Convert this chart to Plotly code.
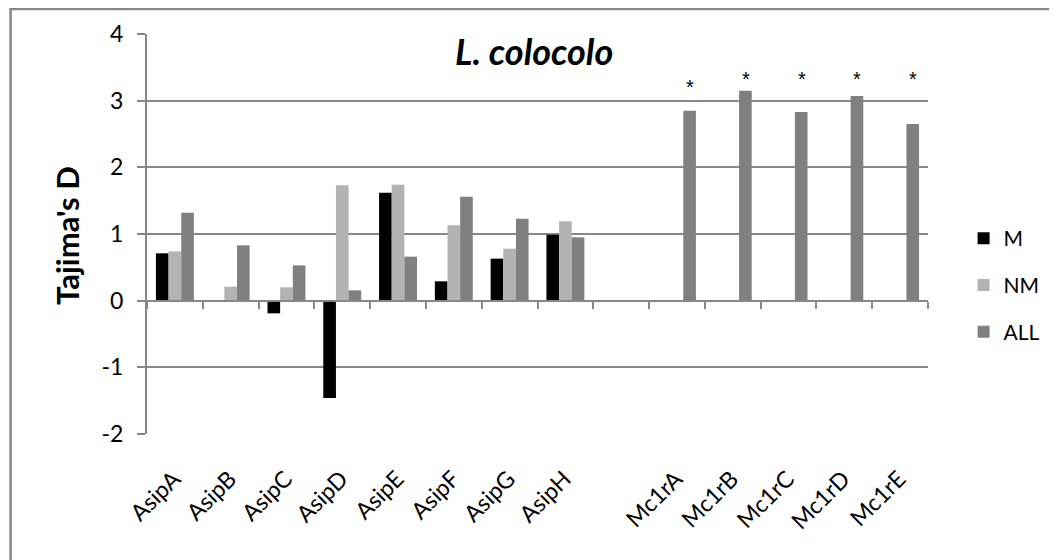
import plotly.graph_objects as go

categories = ["AsipA", "AsipB", "AsipC", "AsipD", "AsipE", "AsipF", "AsipG", "AsipH", " ",
              "Mc1rA", "Mc1rB", "Mc1rC", "Mc1rD", "Mc1rE"]
m_values = [0.71, None, -0.19, -1.46, 1.62, 0.29, 0.63, 0.99, None, None, None, None, None, None]
nm_values = [0.74, 0.21, 0.20, 1.73, 1.74, 1.13, 0.78, 1.19, None, None, None, None, None, None]
all_values = [1.32, 0.83, 0.53, 0.155, 0.66, 1.56, 1.23, 0.95, None, 2.85, 3.15, 2.83, 3.07, 2.65]
star_categories = ["Mc1rA", "Mc1rB", "Mc1rC", "Mc1rD", "Mc1rE"]
star_y = [3.2, 3.33, 3.33, 3.33, 3.33]
y_ticks = [-2, -1, 0, 1, 2, 3, 4]
y_tick_text = ["-2", "-1", "0", "1", "2", "3", "4"]

# page is offset by the default 8px body margin
OFF = 8
PAGE_W, PAGE_H = 1057, 560
W, H = PAGE_W - OFF, PAGE_H - OFF
L, R, T, B = 147, 937, 34, 434          # plot area in page pixels
PW, PH = R - L, B - T
def px(x):
    return (x - L) / PW
def py(y):
    return (B - y) / PH

GRID = "#878787"
FONT = "Lato"

fig = go.Figure()
fig.add_trace(go.Bar(name="M", x=categories, y=m_values, marker_color="#000000",
                     marker_line_width=0, legendgroup="a"))
fig.add_trace(go.Bar(name="NM", x=categories, y=nm_values, marker_color="#b3b3b3",
                     marker_line_width=0, legendgroup="b"))
fig.add_trace(go.Bar(name="ALL", x=categories, y=all_values, marker_color="#808080",
                     marker_line_width=0, legendgroup="c"))
# invisible trace to carry the axis drawn at y = 0
fig.add_trace(go.Scatter(x=categories, y=[None] * len(categories), xaxis="x2",
                         mode="markers", marker_opacity=0, showlegend=False,
                         hoverinfo="skip"))

for c, y in zip(star_categories, star_y):
    fig.add_annotation(x=c, y=y, xref="x", yref="y", text="*", showarrow=False,
                       xshift=13, yanchor="middle",
                       font=dict(family="Liberation Sans", size=20, color="#000"))

fig.add_annotation(x=px(538), y=py(51), xref="paper", yref="paper",
                   xanchor="center", yanchor="middle",
                   text="<b><i>L. colocolo</i></b>", showarrow=False,
                   font=dict(family=FONT, size=36, color="#000"))
fig.add_annotation(x=px(66), y=py(235), xref="paper", yref="paper",
                   xanchor="center", yanchor="middle",
                   text="<b>Tajima's D</b>", textangle=-90, showarrow=False,
                   font=dict(family=FONT, size=31, color="#000"))

fig.add_shape(type="rect", xref="paper", yref="paper",
              x0=px(9), x1=px(1080), y0=py(580), y1=py(9),
              line=dict(color=GRID, width=2.5), fillcolor="rgba(0,0,0,0)")

zero_pos = (0 - y_ticks[0]) / (y_ticks[-1] - y_ticks[0])

fig.update_layout(
    width=W, height=H,
    margin=dict(l=L - OFF, r=PAGE_W - R, t=T - OFF, b=PAGE_H - B, pad=0),
    paper_bgcolor="white", plot_bgcolor="white",
    barmode="group", bargap=0.32, bargroupgap=0,
    font=dict(family=FONT, color="#000"),
    showlegend=True,
    legend=dict(x=px(973), y=py(218), xanchor="left", yanchor="top",
                font=dict(family=FONT, size=21, color="#000"),
                tracegroupgap=16.5, bgcolor="rgba(0,0,0,0)"),
    xaxis=dict(type="category", categoryorder="array", categoryarray=categories,
               range=[-0.5, len(categories) - 0.5], showline=False, showgrid=False,
               ticks="", tickangle=-45, tickfont=dict(family=FONT, size=23, color="#000"),
               zeroline=False, ticklabelstandoff=26, ticklabelshift=-1),
    xaxis2=dict(type="category", categoryorder="array", categoryarray=categories,
                range=[-0.5, len(categories) - 0.5], overlaying="x", anchor="free",
                position=zero_pos, side="bottom", showline=True, linecolor=GRID,
                linewidth=2, ticks="outside", tickson="boundaries", ticklen=7,
                tickwidth=2, tickcolor=GRID, showticklabels=False, showgrid=False,
                zeroline=False),
    yaxis=dict(range=[y_ticks[0], y_ticks[-1]], tickvals=y_ticks, ticktext=y_tick_text,
               showgrid=True, gridcolor=GRID, gridwidth=2, showline=True, linecolor=GRID,
               linewidth=2, ticks="outside", ticklen=8, tickwidth=2, tickcolor=GRID,
               tickfont=dict(family=FONT, size=23, color="#000"), zeroline=False,
               ticklabelstandoff=9),
)

fig.write_html("out.html")
